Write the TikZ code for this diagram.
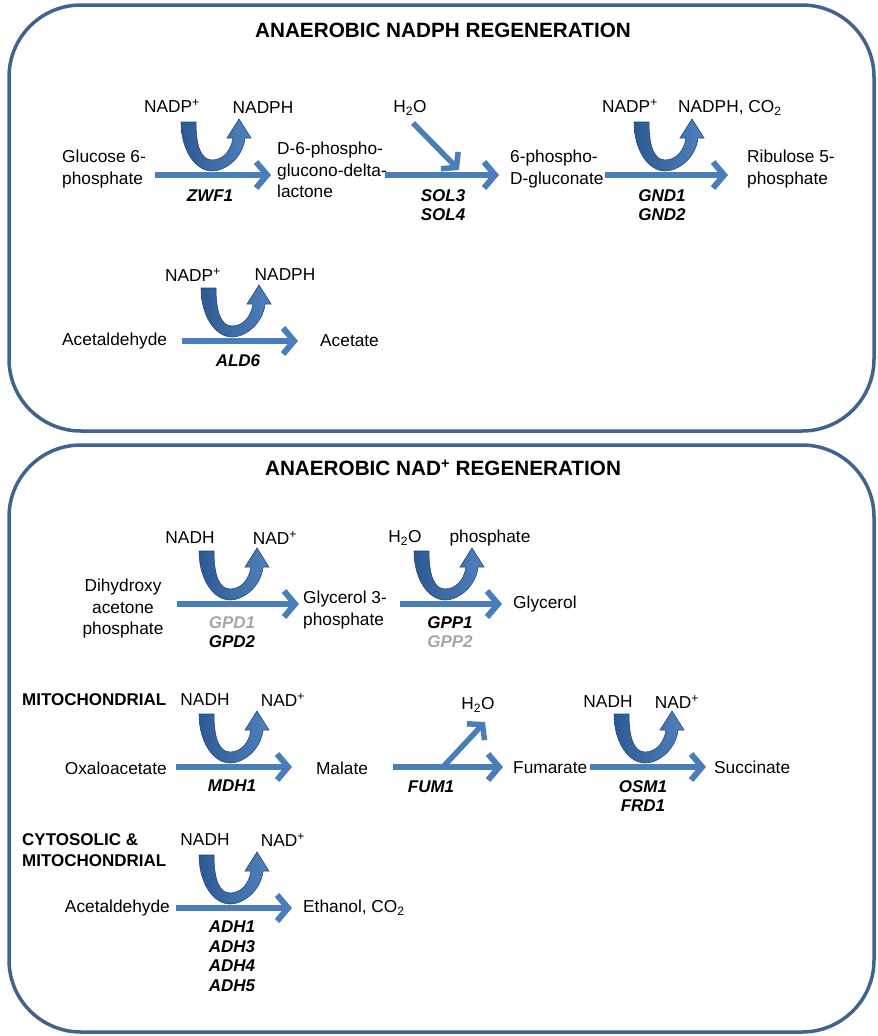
\documentclass[tikz,border=0pt]{standalone}
\usepackage{fontspec}
\setmainfont{Liberation Sans}
\usetikzlibrary{arrows.meta}
\definecolor{boxblue}{HTML}{40638F}
\definecolor{arrblue}{HTML}{4A7EBB}
\definecolor{udark}{HTML}{2E5A93}
\definecolor{ulight}{HTML}{4F81BD}
\definecolor{genegrey}{HTML}{A6A6A6}
\tikzset{
  every node/.style={font=\fontsize{17.3}{21.5}\selectfont, inner sep=0pt, text=black},
  panel/.style={draw=boxblue, line width=3.5pt, rounded corners=72pt},
  titlelbl/.style={font=\fontsize{20.7}{24}\selectfont\bfseries},
  boldlbl/.style={font=\fontsize{17}{20.5}\selectfont\bfseries},
  gene/.style={font=\fontsize{17}{19.5}\selectfont\bfseries\itshape, align=center},
  mainarr/.style={draw=arrblue, line width=6pt, -{Straight Barb[length=11pt,width=26pt]}},
  diagarr/.style={draw=arrblue, line width=5.5pt, -{Straight Barb[length=10pt,width=24pt]}},
  uarr/.pic={
    \path[left color=udark, right color=ulight, draw=udark!80!black, line width=0.6pt]
      (-31,-49) .. controls (-31,-20) and (-16,0) .. (0,0)
      .. controls (14,0) and (31,-14) .. (33,-33)
      -- (39,-33) -- (27,-52) -- (15,-33) -- (21,-33)
      .. controls (19,-20) and (11,-11) .. (0,-11)
      .. controls (-11,-11) and (-16,-25) .. (-16,-49) -- cycle;
  }
}
\begin{document}
\begin{tikzpicture}[x=1pt,y=-1pt]
\useasboundingbox (0,0) rectangle (878,1036);
% panels
\draw[panel] (9,5) rectangle (874,431);
\draw[panel] (9,445) rectangle (874,1032);
\node[titlelbl] (t1) at (443,30) {ANAEROBIC NADPH REGENERATION};
\node[titlelbl] (t2) at (443,468) {ANAEROBIC NAD\textsuperscript{+} REGENERATION};

% ---------- top panel, row 1
\node[anchor=west, align=left] (g6p) at (62,169) {Glucose 6-\\phosphate};
\node[anchor=west, align=left] (dpgl) at (277,170) {D-6-phospho-\\glucono-delta-\\lactone};
\node[anchor=west, align=left] (pg) at (510,169) {6-phospho-\\D-gluconate};
\node[anchor=west, align=left] (ru5p) at (747,169) {Ribulose 5-\\phosphate};
\node (nadp1) at (172,106) {NADP\textsuperscript{+}};
\node (nadph1) at (263,108) {NADPH};
\node (h2o1) at (410,108) {H\textsubscript{2}O};
\node (nadp2) at (630,106) {NADP\textsuperscript{+}};
\node[anchor=west] (nadph2) at (678,108) {NADPH, CO\textsubscript{2}};
\node[gene] (zwf) at (210,196) {ZWF1};
\node[gene] (sol) at (443,205) {SOL3\\SOL4};
\node[gene] (gnd) at (662,205) {GND1\\GND2};
\coordinate (zwfA) at (155,175); \coordinate (zwfB) at (271,175);
\coordinate (solA) at (385,175); \coordinate (solB) at (499,175);
\coordinate (solD1) at (413,123); \coordinate (solD2) at (459,170);
\coordinate (gndA) at (605,175); \coordinate (gndB) at (728,175);
\draw[mainarr] (zwfA) -- (zwfB);
\draw[mainarr] (solA) -- (solB);
\draw[diagarr] (solD1) -- (solD2);
\draw[mainarr] (gndA) -- (gndB);
\pic at (212,171) {uarr};
\pic at (665,171) {uarr};

% ---------- top panel, row 2
\node[anchor=west] (acald1) at (62,341) {Acetaldehyde};
\node[anchor=west] (acet) at (320,341) {Acetate};
\node (nadp3) at (193,275) {NADP\textsuperscript{+}};
\node (nadph3) at (285,275) {NADPH};
\node[gene] (ald) at (238,361) {ALD6};
\coordinate (aldA) at (182,341); \coordinate (aldB) at (298,341);
\draw[mainarr] (aldA) -- (aldB);
\pic at (232,337) {uarr};

% ---------- bottom panel, row 1
\node[align=center] (dhap) at (123,609) {Dihydroxy\\acetone\\phosphate};
\node[anchor=west, align=left] (g3p) at (303,610) {Glycerol 3-\\phosphate};
\node[anchor=west] (glyc) at (513,604) {Glycerol};
\node (nadh1) at (190,538) {NADH};
\node (nad1) at (275,538) {NAD\textsuperscript{+}};
\node (h2o2) at (405,538) {H\textsubscript{2}O};
\node (phos) at (490,538) {phosphate};
\node[gene] (gpd) at (232,632) {\textcolor{genegrey}{GPD1}\\GPD2};
\node[gene] (gpp) at (450,632) {GPP1\\\textcolor{genegrey}{GPP2}};
\coordinate (gpdA) at (177,604); \coordinate (gpdB) at (299,604);
\coordinate (gppA) at (400,604); \coordinate (gppB) at (502,604);
\draw[mainarr] (gpdA) -- (gpdB);
\draw[mainarr] (gppA) -- (gppB);
\pic at (230,600) {uarr};
\pic at (445,600) {uarr};

% ---------- bottom panel, row 2
\node[boldlbl, anchor=west] (mito) at (22,700) {MITOCHONDRIAL};
\node (nadh2) at (205,700) {NADH};
\node (nad2) at (283,700) {NAD\textsuperscript{+}};
\node[anchor=east] (oaa) at (167,768) {Oxaloacetate};
\node (mal) at (342,768) {Malate};
\node (h2o3) at (478,705) {H\textsubscript{2}O};
\node[anchor=west] (fum) at (513,768) {Fumarate};
\node (nadh3) at (608,702) {NADH};
\node (nad3) at (677,702) {NAD\textsuperscript{+}};
\node[anchor=west] (succ) at (714,767) {Succinate};
\node[gene] (mdh) at (232,786) {MDH1};
\node[gene] (fumg) at (431,787) {FUM1};
\node[gene] (osm) at (643,796) {OSM1\\FRD1};
\coordinate (mdhA) at (176,767); \coordinate (mdhB) at (292,767);
\coordinate (fumA) at (393,767); \coordinate (fumB) at (503,767);
\coordinate (fumD1) at (443,767); \coordinate (fumD2) at (485,722);
\coordinate (osmA) at (590,767); \coordinate (osmB) at (706,767);
\draw[mainarr] (mdhA) -- (mdhB);
\draw[diagarr] (fumD1) -- (fumD2);
\draw[mainarr] (fumA) -- (fumB);
\draw[mainarr] (osmA) -- (osmB);
\pic at (230,763) {uarr};
\pic at (645,763) {uarr};

% ---------- bottom panel, row 3
\node[boldlbl, anchor=west, align=left] (cyto) at (22,850) {CYTOSOLIC \&\\MITOCHONDRIAL};
\node (nadh4) at (205,840) {NADH};
\node (nad4) at (283,840) {NAD\textsuperscript{+}};
\node[anchor=east] (acald2) at (170,908) {Acetaldehyde};
\node[anchor=west] (etoh) at (303,908) {Ethanol, CO\textsubscript{2}};
\node[gene] (adh) at (232,956) {ADH1\\ADH3\\ADH4\\ADH5};
\coordinate (adhA) at (176,908); \coordinate (adhB) at (292,908);
\draw[mainarr] (adhA) -- (adhB);
\pic at (230,904) {uarr};
\end{tikzpicture}
\end{document}
